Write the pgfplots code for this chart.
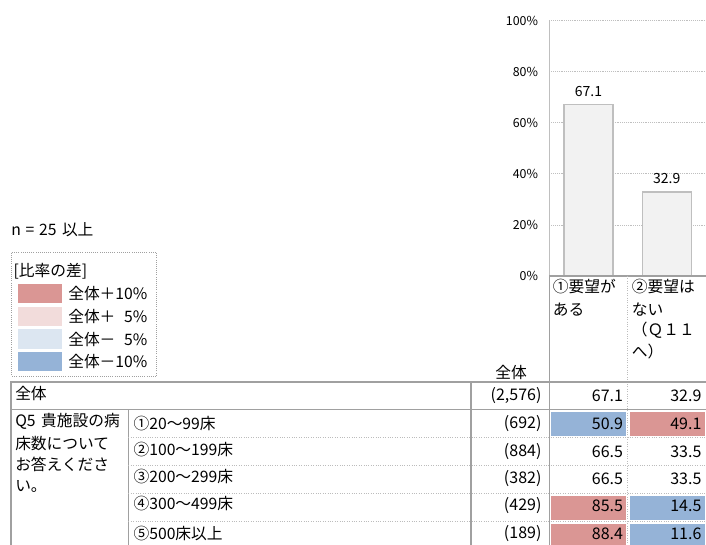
\documentclass[border=0pt]{standalone}
\usepackage{fontspec}
\setmainfont{Noto Sans CJK JP}
\usepackage{pgfplots}
\pgfplotsset{compat=1.18}
\definecolor{cRed}{HTML}{DA9694}
\definecolor{cLRed}{HTML}{F2DCDB}
\definecolor{cLBlue}{HTML}{DCE6F1}
\definecolor{cBlue}{HTML}{95B3D7}
\definecolor{lineg}{HTML}{A0A0A0}
\definecolor{barfill}{HTML}{F2F2F2}
\definecolor{baredge}{HTML}{BFBFBF}
\begin{document}
\begin{tikzpicture}[t/.style={inner sep=0pt, font=\fontsize{11.8}{13}\selectfont},
  num/.style={inner sep=0pt, font=\fontsize{12}{13}\selectfont}]
\path[use as bounding box] (0,0) rectangle (529.5pt,408pt);
\clip (0,0) rectangle (529.5pt,408pt);
\begin{scope}[x=0.75pt,y=0.75pt]
% coloured cells
\fill[cBlue] (551,132.5) rectangle (626,108);
\fill[cRed] (629.5,132.5) rectangle (704.5,108);
\fill[cRed] (551,48.5) rectangle (626,24);
\fill[cBlue] (629.5,48.5) rectangle (704.5,24);
\fill[cRed] (551,20.5) rectangle (626,-4);
\fill[cBlue] (629.5,20.5) rectangle (704.5,-4);
\end{scope}
% chart
\begin{axis}[at={(411.975pt,201pt)}, anchor=south west, scale only axis,
  width=117.5pt, height=191.5pt,
  xmin=0, xmax=2, ymin=0, ymax=100, enlargelimits=false,
  axis line style={draw=none}, xtick=\empty,
  ytick={0,20,40,60,80,100}, major tick length=0pt,
  yticklabel={\pgfmathprintnumber{\tick}\%},
  yticklabel style={font=\fontsize{9.3}{10}\selectfont, inner sep=0pt, anchor=east, xshift=-8.3pt},
  /pgf/number format/assume math mode=true,
  ymajorgrids, grid style={densely dotted, color=baredge, line width=0.6pt},
  ybar, bar width=36.75pt,
  nodes near coords, point meta=y,
  nodes near coords style={font=\fontsize{10.5}{11}\selectfont, anchor=south, inner sep=0pt, yshift=5.7pt,
    /pgf/number format/fixed, /pgf/number format/precision=1, /pgf/number format/fixed zerofill},
]
\addplot[fill=barfill, draw=baredge, line width=0.8pt] coordinates {(0.5,67.1) (1.5,32.9)};
\end{axis}
\begin{scope}[x=0.75pt,y=0.75pt]
% lines
\draw[baredge, line width=0.8pt] (549.3,523.3) -- (549.3,268);
\draw[lineg, line width=1.2pt] (549.3,268) -- (706,268);
\draw[lineg, line width=1.2pt] (549.3,268) -- (549.3,-10);
\draw[lineg!70, densely dotted, line width=0.8pt] (627.7,268) -- (627.7,-10);
\draw[lineg, line width=1.2pt] (10.7,-10) -- (10.7,162.3) -- (706,162.3);
\draw[lineg, line width=1.2pt] (10.7,134.7) -- (706,134.7);
\draw[lineg, line width=1.2pt] (128.3,134.7) -- (128.3,-10);
\draw[lineg, line width=1.2pt] (471,162.3) -- (471,-10);
\foreach \yy in {106.5,78.5,50.5,22.5}
  \draw[lineg!70, densely dotted, line width=0.8pt] (128.3,\yy) -- (706,\yy);
% legend
\node[t, anchor=west] at (11,314) {n\hspace*{0.3em}=\hspace*{0.3em}25\hspace*{0.35em}以上};
\draw[lineg, densely dotted, line width=0.6pt] (11.7,291.3) rectangle (156.7,168);
\node[t, anchor=west] at (13.3,272.3) {[比率の差]};
\fill[cRed] (18.3,259.7) rectangle (61.7,240.7);
\fill[cLRed] (18.3,237.3) rectangle (61.7,218);
\fill[cLBlue] (18.3,215) rectangle (61.7,195.3);
\fill[cBlue] (18.3,192.3) rectangle (61.7,173.3);
\node[t, anchor=west] at (68,250.2) {全体＋10\%};
\node[t, anchor=west] at (68,228) {全体＋\hphantom{1}5\%};
\node[t, anchor=west] at (68,205) {全体－\hphantom{1}5\%};
\node[t, anchor=west] at (68,183) {全体－10\%};
% headers
\node[t] at (511,172) {全体};
\node[t, anchor=west] at (552.7,257.3) {①要望が};
\node[t, anchor=west] at (552.7,234) {ある};
\node[t, anchor=west] at (631.7,257.3) {②要望は};
\node[t, anchor=west] at (631.7,234) {ない};
\node[t, anchor=west] at (631.7,214) {（Ｑ１１};
\node[t, anchor=west] at (631.7,192.3) {へ）};
% row labels
\node[t, anchor=west] at (15,150.7) {全体};
\node[t, anchor=west] at (15,122.3) {Q5\hspace*{0.35em}貴施設の病};
\node[t, anchor=west] at (15,100.7) {床数について};
\node[t, anchor=west] at (15,79.7) {お答えくださ};
\node[t, anchor=west] at (15,57.3) {い。};
\node[t, anchor=west] at (133.3,120.7) {①20～99床};
\node[t, anchor=west] at (133.3,94) {②100～199床};
\node[t, anchor=west] at (133.3,67.3) {③200～299床};
\node[t, anchor=west] at (133.3,40.7) {④300～499床};
\node[t, anchor=west] at (133.3,10.7) {⑤500床以上};
% numbers
\foreach \yy/\nn/\aa/\bb in {148/{(2,576)}/67.1/32.9, 120.7/(692)/50.9/49.1, 92.3/(884)/66.5/33.5, 65.7/(382)/66.5/33.5, 38/(429)/85.5/14.5, 10.7/(189)/88.4/11.6}{
  \node[num, anchor=east] at (541.7,\yy) {\nn};
  \node[num, anchor=east] at (623.3,\yy) {\aa};
  \node[num, anchor=east] at (701.7,\yy) {\bb};
}
\end{scope}
\end{tikzpicture}
\end{document}
